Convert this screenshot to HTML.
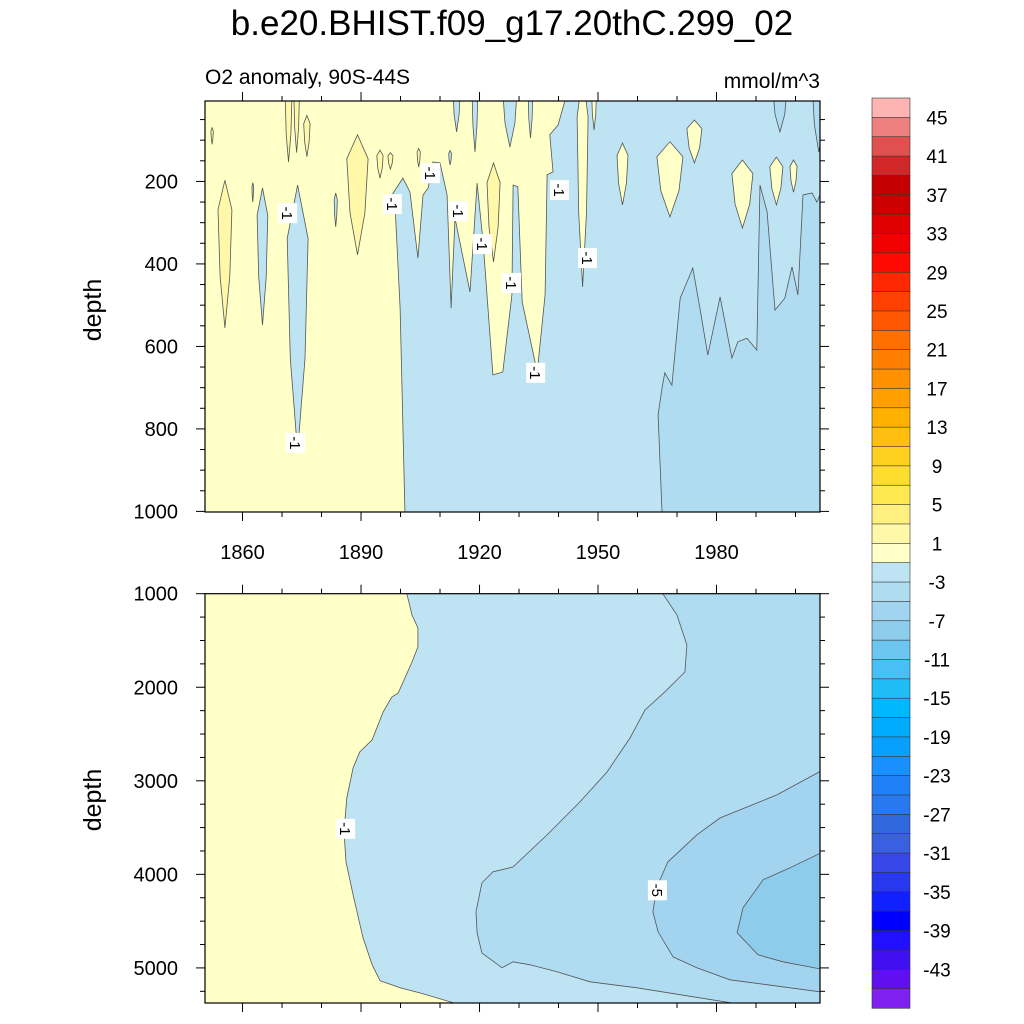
<!DOCTYPE html>
<html><head><meta charset="utf-8">
<style>
html,body{margin:0;padding:0;background:#fff;}
svg{display:block;font-family:"Liberation Sans",sans-serif;}
</style></head>
<body>
<svg id="chart" width="1024" height="1024" viewBox="0 0 1024 1024" xmlns="http://www.w3.org/2000/svg">
<text x="512" y="35" font-size="35" text-anchor="middle">b.e20.BHIST.f09_g17.20thC.299_02</text>
<text x="205" y="84" font-size="21">O2 anomaly, 90S-44S</text>
<text x="820" y="88" font-size="21" text-anchor="end">mmol/m^3</text>
<text transform="translate(101,310) rotate(-90)" font-size="25" text-anchor="middle">depth</text>
<text transform="translate(101,800) rotate(-90)" font-size="25" text-anchor="middle">depth</text>
<defs>
<clipPath id="clipTop"><rect x="205" y="101" width="615" height="411"/></clipPath>
<clipPath id="clipBot"><rect x="205" y="593.7" width="615" height="409.3"/></clipPath>
</defs>
<g id="topPanel"></g>
<g id="botPanel"></g>
<g id="colorbar"></g>
</svg>
<script>
// ---- data ----
const yearRange = [1850.5, 2006.2];
const topDepthRange = [5, 1000];
const botDepthRange = [1000, 5375];
const xTickMajor = [1860, 1890, 1920, 1950, 1980];
const xTickLabels = ["1860", "1890", "1920", "1950", "1980"];
const topYTicks = [200, 400, 600, 800, 1000];
const botYTicks = [1000, 2000, 3000, 4000, 5000];
const levelLabels = [45,41,37,33,29,25,21,17,13,9,5,1,-3,-7,-11,-15,-19,-23,-27,-31,-35,-39,-43];
const levelColors = ["#FFB4B4","#F08080","#E05050","#D02828","#C40000","#CC0000","#E00000","#F00000","#FF0A00","#FF2800","#FF4000","#FF5800","#FF7000","#FF8000","#FF9000","#FFA000","#FFB000","#FFBE10","#FFD020","#FFDC30","#FFE850","#FFF080","#FFF8A8","#FFFFC8","#BEE3F3","#B0DCF2","#A2D4F0","#8ECCEC","#6CC6F0","#48C0F5","#20BCF8","#00B8FF","#00ACFF","#08A0FF","#1890FF","#2080F8","#2878F0","#3068E0","#3860E0","#3848E8","#2838F0","#1020FF","#0000FF","#2010FF","#4010F0","#6010F0","#8020F0"];

const topMinus1 = [[1901.1,1000],[1899.9,507],[1898.6,257],[1897.8,233],[1900.6,192],[1902.4,226],[1904.4,386],[1905.7,233],[1907.0,216],[1908.2,153],[1910.0,155],[1911.8,233],[1912.8,507],[1913.8,289],[1917.6,468],[1919.4,204],[1920.9,347],[1923.4,669],[1925.9,662],[1928.2,475],[1928.5,209],[1929.7,213],[1930.8,492],[1934.6,662],[1936.6,475],[1937.1,184],[1938.6,177],[1937.8,87],[1939.9,63],[1941.6,5]];
const topMinus3 = [[1966.2,1000],[1965.2,766],[1966.2,701],[1966.9,664],[1968.7,694],[1970.8,483],[1972,456],[1974,410],[1975.8,507],[1977.8,621],[1980.9,480],[1983.9,628],[1985.4,589],[1987.7,580],[1990.2,609],[1991,209],[1992.8,274],[1994.8,512],[1997.3,483],[1999.1,407],[2000.6,475],[2001.9,233],[2004.2,228],[2005.4,250],[2006.2,233]];
const topYellowInBlue = [[1944.7,1947.5,-60,456],[1948.4,1949.6,-30,75],[1954.8,1957.6,107,257],[1964.9,1971.5,104,286],[1972.5,1976.3,51,155],[1983.9,1989.2,148,313],[1993.5,1996.8,141,257],[1998.6,2000.4,148,226]];
const topBlueInYellow = [[1913.3,1915.1,-40,80],[1918.1,1919.6,-60,129],[1925.9,1929.5,-50,117],[1932.3,1933.5,-40,95],[1912.2,1912.9,125,160],[1863.7,1866.4,216,548],[1871.3,1876.6,209,856],[1883.2,1884.0,228,310],[1862.4,1862.8,203,250]];
const topDarkSpikes = [[1994.3,1997.8,-40,80],[2004.3,2007.5,-60,129]];
const topPaleYellow = [[1853.8,1857.3,197,555],[1870.8,1872.5,-40,153],[1873.0,1874.4,-40,130],[1875.5,1877.1,40,140],[1886.4,1891.8,87,378],[1894,1895.6,124,192],[1896.8,1898.1,130,170],[1904.2,1905,120,165],[1921.9,1925.2,155,395],[1852.0,1852.6,70,110]];
const topLabels = [[1871.3,277],[1897.8,255],[1907.5,180],[1914.5,272],[1920.6,352],[1928,446],[1934.1,664],[1947.2,386],[1940.1,221],[1873.3,834]];

const botMinus1 = [[1901.6,1000],[1902.9,1228],[1904.4,1367],[1904.4,1569],[1902.9,1730],[1899.4,2061],[1897.8,2104],[1895.6,2264],[1892.8,2563],[1889.7,2691],[1888,2862],[1886.4,3182],[1885.7,3545],[1886.2,3866],[1888,4219],[1890.5,4678],[1892.8,4966],[1894.8,5137],[1899.9,5212],[1905.7,5276],[1913.3,5372],[1915,5400]];
const botMinus3 = [[1966.4,1000],[1970,1228],[1972.5,1548],[1972,1837],[1966.9,2050],[1961.9,2243],[1958.1,2542],[1952.3,2905],[1945.4,3226],[1937.1,3578],[1928.5,3920],[1923.4,3974],[1920.6,4091],[1919.1,4401],[1919.4,4625],[1920.6,4839],[1925.7,4999],[1928.5,4935],[1932.8,4967],[1939.6,5042],[1948,5148],[1959.9,5212],[1983.4,5372],[1985,5400]];
const botMinus5 = [[2006.2,2900],[1995.3,3151],[1980.9,3397],[1975,3578],[1967.7,3867],[1964.9,4134],[1963.9,4401],[1965.2,4615],[1969,4882],[1975,4999],[1983.4,5127],[2006.2,5255]];
const botMinus7 = [[2006.2,3775],[1998.6,3930],[1991.8,4058],[1986.7,4357],[1985.2,4625],[1990.5,4860],[1996.8,4935],[2006.2,5010]];
const botLabels = [[1886,3513,"-1"],[1964.9,4170,"-5"]];

// ---- axes ----
const X0=205, X1=820;
function xs(yr){return X0+(yr-yearRange[0])/(yearRange[1]-yearRange[0])*(X1-X0);}
function yTop(d){return 101+(d-topDepthRange[0])/(topDepthRange[1]-topDepthRange[0])*(511.4-101);}
function yBot(d){return 593.7+(d-botDepthRange[0])/(botDepthRange[1]-botDepthRange[0])*(1003-593.7);}
const NS="http://www.w3.org/2000/svg";
function mk(tag,attrs,parent){const e=document.createElementNS(NS,tag);for(const k in attrs)e.setAttribute(k,attrs[k]);parent.appendChild(e);return e;}
const YEL="#FFFFC8", YEL2="#FFF8A8", B1="#BEE3F3", B2="#B0DCF2", B3="#A2D4F0", B4="#8ECCEC";
const STROKE="#555", SW="0.8";

function ptsStr(arr,ys){return arr.map(p=>xs(p[0]).toFixed(1)+","+ys(p[1]).toFixed(1)).join(" ");}
function blobPts(b,ys){const m=(b[0]+b[1])/2,h=b[3]-b[2];
  return [[m,b[2]],[b[1],b[2]+0.2*h],[b[1]-(b[1]-b[0])*0.15,b[2]+0.65*h],[m,b[3]],[b[0]+(b[1]-b[0])*0.15,b[2]+0.65*h],[b[0],b[2]+0.2*h]];}

// ---- top panel ----
const tp=document.getElementById('topPanel');
const tg=mk('g',{'clip-path':'url(#clipTop)'},tp);
let r=mk('rect',{x:205,y:101,width:615,height:411,fill:YEL},tg);


let pg=mk('polygon',{points:ptsStr(topMinus1.concat([[yearRange[1]+1,-20],[yearRange[1]+1,1100],[1901.1,1100]]),yTop),fill:B1,stroke:STROKE,'stroke-width':SW},tg);


pg=mk('polygon',{points:ptsStr(topMinus3.concat([[yearRange[1]+1,233],[yearRange[1]+1,1100],[1966.2,1100]]),yTop),fill:B2,stroke:STROKE,'stroke-width':SW},tg);


function drawBlobs(list,fill,name){list.forEach(b=>{const e=mk('polygon',{points:ptsStr(blobPts(b,yTop),yTop),fill:fill,stroke:STROKE,'stroke-width':SW},tg);
  
  });}
drawBlobs(topDarkSpikes,B2,'top-minus3-spike');
drawBlobs(topYellowInBlue,YEL,'top-positive-patch');
drawBlobs(topBlueInYellow,B1,'top-negative-patch');
drawBlobs(topPaleYellow,YEL2,'top-plus1-patch');
function contourLabel(g,yr,d,ys,txt){const cx=xs(yr),cy=ys(d);
  const gg=mk('g',{transform:`translate(${cx.toFixed(1)},${cy.toFixed(1)}) rotate(90)`},g);
  
  
  mk('rect',{x:-10,y:-10,width:20,height:19,fill:'#fff'},gg);
  const t=mk('text',{x:0,y:5,'font-size':15,'text-anchor':'middle'},gg);t.textContent=txt;}
topLabels.forEach(l=>contourLabel(tg,l[0],l[1],yTop,"-1"));
r=mk('rect',{x:205,y:101,width:615,height:411,fill:'none',stroke:'#000','stroke-width':1.2},tp);



function xTicks(g,yEdge,dir,labels,labelY){
  for(let yr=1860;yr<=2000;yr+=10){const x=xs(yr);const maj=xTickMajor.includes(yr);
    const t=mk('line',{x1:x,x2:x,y1:yEdge,y2:yEdge+dir*(maj?9:5),stroke:'#000','stroke-width':1},g);
    
    }
  if(labels){xTickMajor.forEach((yr,i)=>{const t=mk('text',{x:xs(yr),y:labelY,'font-size':20,'text-anchor':'middle'},g);
    
    
    t.textContent=xTickLabels[i];});}
}
function yTicksDraw(g,ys,dmin,dmax,majors,minorStep){
  for(let d=Math.ceil(dmin/minorStep)*minorStep;d<=dmax;d+=minorStep){const y=ys(d);const maj=majors.includes(d);
    [[205,-1],[820,1]].forEach(([x,s])=>{const t=mk('line',{x1:x,x2:x+s*(maj?9:5),y1:y,y2:y,stroke:'#000','stroke-width':1},g);
      
      });}
  majors.forEach(d=>{const t=mk('text',{x:178,y:ys(d)+7,'font-size':20,'text-anchor':'end'},g);
    
    
    t.textContent=String(d);});
}
xTicks(tp,101,-1,false);
xTicks(tp,512,1,true,559);
yTicksDraw(tp,yTop,5,1000,topYTicks,50);

// ---- bottom panel ----
const bp=document.getElementById('botPanel');
const bg=mk('g',{'clip-path':'url(#clipBot)'},bp);
r=mk('rect',{x:205,y:593.7,width:615,height:409.3,fill:YEL},bg);


const R=yearRange[1]+1;
pg=mk('polygon',{points:ptsStr(botMinus1.concat([[R,5500],[R,900],[1901.6,900]]),yBot),fill:B1,stroke:STROKE,'stroke-width':SW},bg);


pg=mk('polygon',{points:ptsStr(botMinus3.concat([[R,5500],[R,900],[1966.4,900]]),yBot),fill:B2,stroke:STROKE,'stroke-width':SW},bg);


pg=mk('polygon',{points:ptsStr(botMinus5.concat([[R,5255],[R,2900]]),yBot),fill:B3,stroke:STROKE,'stroke-width':SW},bg);


pg=mk('polygon',{points:ptsStr(botMinus7.concat([[R,5010],[R,3775]]),yBot),fill:B4,stroke:STROKE,'stroke-width':SW},bg);


botLabels.forEach(l=>contourLabel(bg,l[0],l[1],yBot,l[2]));
r=mk('rect',{x:205,y:593.7,width:615,height:409.3,fill:'none',stroke:'#000','stroke-width':1.2},bp);


xTicks(bp,593.7,-1,false);
xTicks(bp,1003,1,false);
yTicksDraw(bp,yBot,1000,5375,botYTicks,250);

// ---- colorbar ----
const cb=document.getElementById('colorbar');
const CB0=98, CB1=1008, n=levelColors.length, bh=(CB1-CB0)/n;
levelColors.forEach((c,i)=>{const e=mk('rect',{x:872,y:CB0+i*bh,width:38,height:bh+0.3,fill:c,stroke:'#333','stroke-width':0.6},cb);
  
  });
levelLabels.forEach(v=>{const k=(47-v)/2;const t=mk('text',{x:937,y:CB0+k*bh+7,'font-size':19,'text-anchor':'middle'},cb);
  
  
  t.textContent=String(v);});
</script>
</body></html>
